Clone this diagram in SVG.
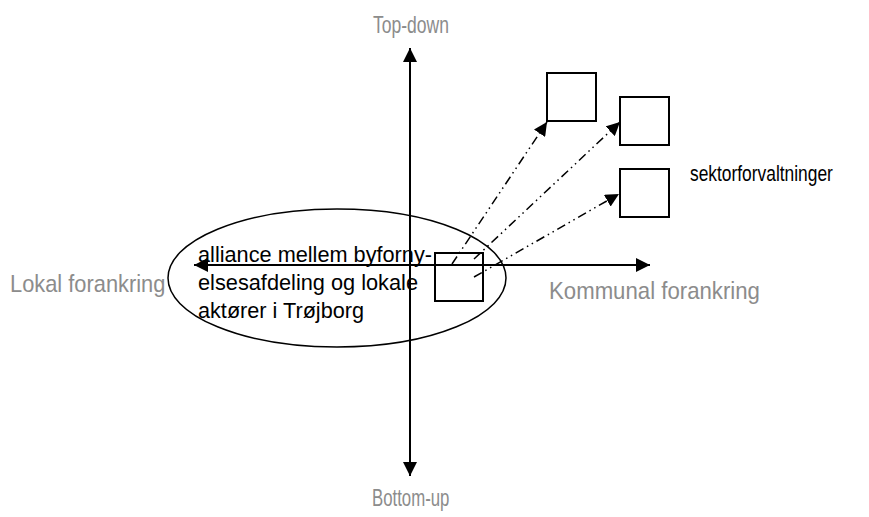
<svg xmlns="http://www.w3.org/2000/svg" width="869" height="517" viewBox="0 0 869 517">
  <style>
    .axis { stroke: #000; stroke-width: 2; fill: none; }
    .dd { stroke: #000; stroke-width: 1.5; fill: none; stroke-dasharray: 9 4 1.5 4 1.5 4; }
    .box { fill: #fff; stroke: #000; stroke-width: 2; }
    .lbl { font-family: "Liberation Sans", Arial, sans-serif; font-size: 24px; fill: #8c8c8c; }
    .txt { font-family: "Liberation Sans", Arial, sans-serif; font-size: 22px; fill: #000; }
  </style>
  <defs>
    <marker id="head" viewBox="0 0 10 10" refX="10" refY="5" markerWidth="7" markerHeight="7" orient="auto" markerUnits="strokeWidth">
      <path d="M0,0 L10,5 L0,10 z" fill="#000"/>
    </marker>
    <marker id="headS" viewBox="0 0 10 10" refX="10" refY="5" markerWidth="9" markerHeight="9" orient="auto" markerUnits="strokeWidth">
      <path d="M0,0 L10,5 L0,10 z" fill="#000"/>
    </marker>
  </defs>

  <rect width="869" height="517" fill="#fff"/>

  <!-- alliance ellipse -->
  <g id="alliance">
    <ellipse cx="337" cy="278" rx="169" ry="69" fill="none" stroke="#000" stroke-width="1.5"/>
  </g>

  <!-- axes and dash-dot connectors -->
  <g id="connectors">
    <line class="axis" x1="410" y1="472" x2="410" y2="48" marker-end="url(#head)"/>
    <line class="axis" x1="410" y1="48" x2="410" y2="476" marker-end="url(#head)"/>
    <line class="axis" x1="410" y1="265" x2="650" y2="265" marker-end="url(#head)"/>
    <line class="axis" x1="410" y1="265" x2="194" y2="265" marker-end="url(#head)"/>
    <line class="dd" x1="452" y1="264" x2="547" y2="122" marker-end="url(#headS)"/>
    <line class="dd" x1="474" y1="259" x2="620" y2="122" marker-end="url(#headS)"/>
    <line class="dd" x1="474" y1="277" x2="619" y2="194" marker-end="url(#headS)"/>
  </g>

  <!-- small centre box -->
  <g id="centre-box">
    <rect class="box" x="435" y="253" width="48" height="48" style="fill:none"/>
  </g>

  <!-- sector boxes -->
  <g id="sektor-1"><rect class="box" x="547" y="73" width="49" height="48"/></g>
  <g id="sektor-2"><rect class="box" x="620" y="97" width="49" height="48"/></g>
  <g id="sektor-3"><rect class="box" x="620" y="169" width="49" height="48"/></g>

  <!-- axis labels (condensed horizontally) -->
  <g id="label-top"><text class="lbl" transform="translate(373,33) scale(0.73,1)">Top-down</text></g>
  <g id="label-bottom"><text class="lbl" transform="translate(372,506) scale(0.70,1)">Bottom-up</text></g>
  <g id="label-left"><text class="lbl" transform="translate(10,292) scale(0.91,1)">Lokal forankring</text></g>
  <g id="label-right"><text class="lbl" transform="translate(549,299) scale(0.925,1)">Kommunal forankring</text></g>
  <g id="label-sektor"><text class="txt" transform="translate(690,181) scale(0.79,1)">sektorforvaltninger</text></g>

  <g id="alliance-text">
    <text class="txt" x="198" y="262" textLength="234" lengthAdjust="spacingAndGlyphs">alliance mellem byforny-</text>
    <text class="txt" x="198" y="290" textLength="220" lengthAdjust="spacingAndGlyphs">elsesafdeling og lokale</text>
    <text class="txt" x="198" y="318" textLength="166" lengthAdjust="spacingAndGlyphs">aktører i Trøjborg</text>
  </g>
</svg>
